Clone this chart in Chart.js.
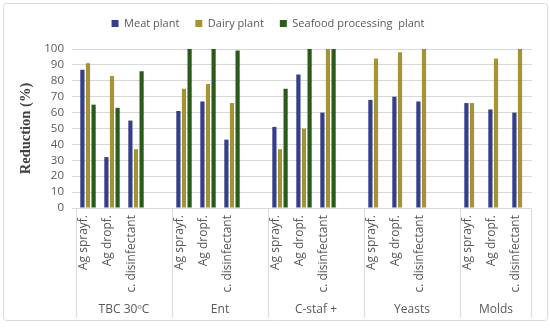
<!DOCTYPE html>
<html>
<head>
<meta charset="utf-8">
<script src="https://cdn.jsdelivr.net/npm/chart.js@4.4.1/dist/chart.umd.min.js"></script>
<style>
  body { margin: 0; background: #fff; }
  #wrap { width: 550px; height: 331px; position: relative; }
</style>
</head>
<body>
<div id="wrap"><canvas id="chart" width="550" height="331"></canvas></div>
<script>
// categories (blank entries are the empty slots between groups)
const labels = [
  "Ag sprayf.", "Ag dropf.", "c. disinfectant", "",
  "Ag sprayf.", "Ag dropf.", "c. disinfectant", "",
  "Ag sprayf.", "Ag dropf.", "c. disinfectant", "",
  "Ag sprayf.", "Ag dropf.", "c. disinfectant", "",
  "Ag sprayf.", "Ag dropf.", "c. disinfectant"
];
const groups = ["TBC 30ºC", "Ent", "C-staf +", "Yeasts", "Molds"];
const groupSizes = [4, 4, 4, 4, 3];

const meatPlant = [87, 32, 55, null, 61, 67, 43, null, 51, 84, 60, null, 68, 70, 67, null, 66, 62, 60];
const dairyPlant = [91, 83, 37, null, 75, 78, 66, null, 37, 50, 100, null, 94, 98, 100, null, 66, 94, 100];
const seafoodPlant = [65, 63, 86, null, 100, 100, 99, null, 75, 100, 100, null, null, null, null, null, null, null, null];

const yTicks = [0, 10, 20, 30, 40, 50, 60, 70, 80, 90, 100];

const textColor = "#595959";
const fontFamily = "'Open Sans', sans-serif";

// frame round the whole picture
const framePlugin = {
  id: "frame",
  afterInit(chart) {
    // leave a gap between legend and plot
    const fit = chart.legend.fit;
    chart.legend.fit = function() {
      fit.call(this);
      this.height += 10;
    };
  },
  beforeDraw(chart) {
    const ctx = chart.ctx;
    ctx.save();
    ctx.strokeStyle = "#d9d9d9";
    ctx.lineWidth = 1;
    ctx.beginPath();
    ctx.roundRect(3.5, 3.5, 544, 317, 3);
    ctx.stroke();
    ctx.restore();
  }
};

// group separators and group names under the x labels
const groupAxisPlugin = {
  id: "groupAxis",
  afterDraw(chart) {
    const x = chart.scales.x;
    const ctx = chart.ctx;
    const step = x.width / labels.length;
    const top = x.top;
    const bottom = 318;
    ctx.save();
    ctx.strokeStyle = "#d9d9d9";
    ctx.lineWidth = 1;
    ctx.fillStyle = textColor;
    ctx.font = "12px " + fontFamily;
    ctx.textAlign = "center";
    ctx.textBaseline = "middle";
    let start = 0;
    groups.forEach((g, i) => {
      const left = x.getPixelForValue(start) - step / 2;
      const right = left + step * groupSizes[i];
      ctx.beginPath();
      ctx.moveTo(Math.round(left) + 0.5, top);
      ctx.lineTo(Math.round(left) + 0.5, bottom);
      ctx.stroke();
      if (i === groups.length - 1) {
        ctx.beginPath();
        ctx.moveTo(Math.round(right) - 0.5, top);
        ctx.lineTo(Math.round(right) - 0.5, bottom);
        ctx.stroke();
      }
      ctx.fillText(g, (left + right) / 2, 310);
      start += groupSizes[i];
    });
    ctx.restore();
  }
};

new Chart(document.getElementById("chart"), {
  type: "bar",
  data: {
    labels: labels,
    datasets: [
      { label: "Meat plant", data: meatPlant, backgroundColor: "#343e8c" },
      { label: "Dairy plant", data: dairyPlant, backgroundColor: "#a59436" },
      { label: "Seafood processing  plant", data: seafoodPlant, backgroundColor: "#2c5a1c" }
    ]
  },
  options: {
    responsive: false,
    animation: false,
    layout: { padding: { left: 4, right: 18, top: 2, bottom: 5 } },
    datasets: {
      bar: { categoryPercentage: 0.7, barPercentage: 0.75 }
    },
    plugins: {
      legend: {
        position: "top",
        labels: {
          boxWidth: 7,
          boxHeight: 7,
          padding: 16,
          color: textColor,
          font: { family: fontFamily, size: 11 }
        }
      },
      tooltip: { enabled: false }
    },
    scales: {
      x: {
        grid: { display: false, drawTicks: false },
        border: { display: false },
        afterFit(scale) { scale.height = 331 - 5 - 208; },
        ticks: {
          autoSkip: false,
          maxRotation: 90,
          minRotation: 90,
          padding: 7,
          labelOffset: -4,
          color: textColor,
          font: { family: fontFamily, size: 12 }
        }
      },
      y: {
        min: 0,
        max: 100,
        afterFit(scale) { scale.width = 72; },
        afterBuildTicks(scale) { scale.ticks = yTicks.map(v => ({ value: v })); },
        grid: { color: "#d9d9d9", drawTicks: true, tickLength: 4 },
        border: { display: false },
        ticks: {
          autoSkip: false,
          padding: 8,
          color: textColor,
          font: { family: fontFamily, size: 11.5 }
        },
        title: {
          display: true,
          text: "Reduction (%)",
          color: "#404040",
          padding: { top: 14, bottom: 0 },
          font: { family: "'Liberation Serif', 'DejaVu Serif', serif", size: 14.5, weight: "bold" }
        }
      }
    }
  },
  plugins: [framePlugin, groupAxisPlugin]
});
</script>
</body>
</html>
